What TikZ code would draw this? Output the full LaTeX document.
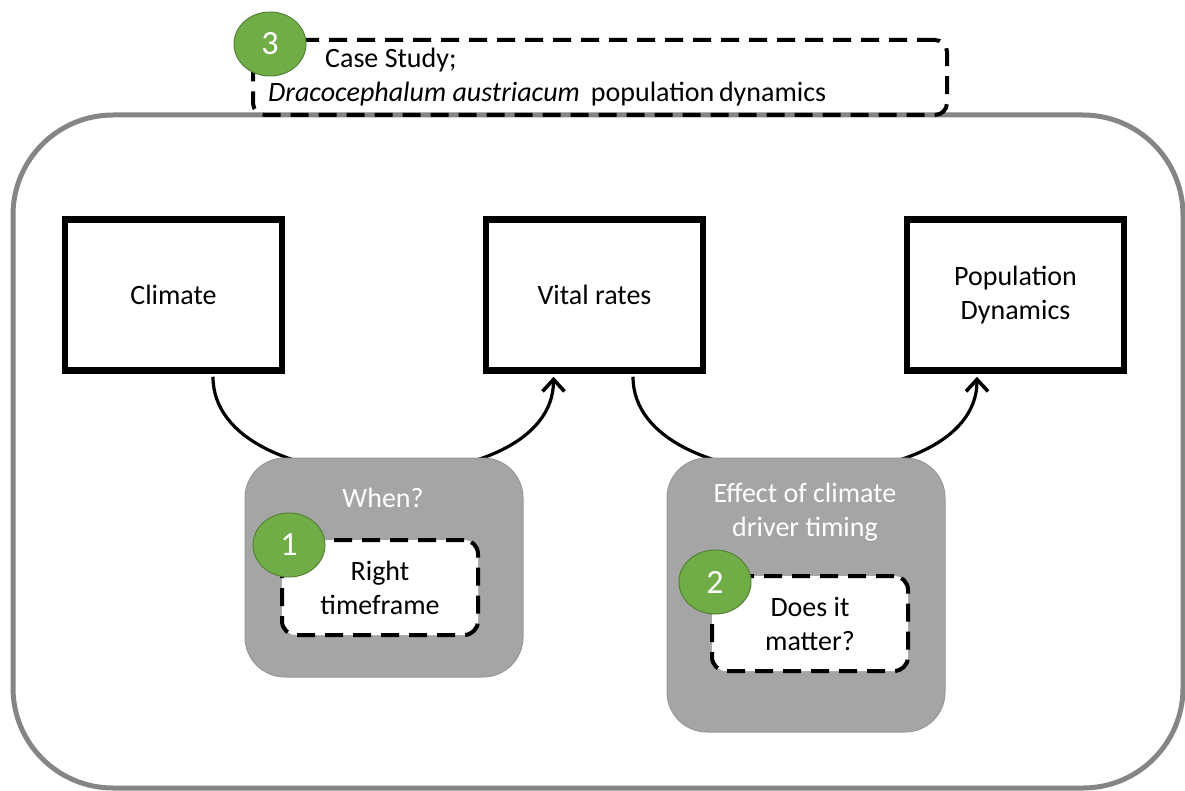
\documentclass[tikz,border=0pt]{standalone}
\usepackage{fontspec}
\setmainfont{Carlito}
\usetikzlibrary{arrows.meta}
\definecolor{outergray}{HTML}{858585}
\definecolor{boxgray}{HTML}{A5A5A5}
\definecolor{boxedge}{HTML}{979797}
\definecolor{numgreen}{HTML}{70AD47}
\definecolor{numedge}{HTML}{548235}
\tikzset{
  txt/.style={font=\fontsize{28}{34}\selectfont},
  mainbox/.style={draw=black, line width=6.5pt, fill=white, minimum width=217pt, minimum height=151pt, inner sep=0pt, txt, align=center},
  greybox/.style={draw=boxedge, line width=1pt, fill=boxgray, rounded corners=40pt, inner sep=0pt},
  dashbox/.style={draw=black, line width=4pt, dash pattern=on 18pt off 10pt, fill=white, rounded corners=14pt, minimum width=196pt, minimum height=95pt, inner sep=0pt, txt, align=center},
  numcirc/.style={ellipse, draw=numedge, line width=1pt, fill=numgreen, minimum width=72pt, minimum height=64pt, inner sep=0pt, text=white, font=\fontsize{34}{40}\selectfont},
  whitetxt/.style={txt, text=white, align=center},
  flow/.style={line width=3.2pt, -{Straight Barb[length=12pt,width=22pt,line width=3.6pt]}},
}
\usetikzlibrary{shapes.geometric}
\begin{document}
\begin{tikzpicture}[x=1pt,y=-1pt]
\useasboundingbox (0,0) rectangle (1185,791);
% outer frame
\draw[outergray, line width=5pt, rounded corners=100pt] (13,115) rectangle (1183,788);
% top dashed case-study box
\node[draw=black, line width=4pt, dash pattern=on 18pt off 10pt, rounded corners=12pt, minimum width=694pt, minimum height=75pt, inner sep=0pt] (case) at (600,77.5) {};
\node[txt, anchor=base west, inner sep=0pt] (casel1) at (325,68) {Case Study;};
\node[txt, anchor=base west, inner sep=0pt] (casel2) at (268,102) {\textit{Dracocephalum austriacum}\, population\,dynamics};
\node[numcirc] (n3) at (270,44) {3};
% main boxes
\node[mainbox] (clim) at (173.5,295) {Climate};
\node[mainbox] (vital) at (594.5,295) {Vital rates};
\node[mainbox] (pop) at (1015.5,295) {Population\\Dynamics};
% connectors
\draw[flow] ([xshift=39.5pt,yshift=-3pt]clim.south) .. controls +(0,128) and +(0,128) .. ([xshift=-41pt,yshift=-3pt]vital.south);
\draw[flow] ([xshift=38.5pt,yshift=-3pt]vital.south) .. controls +(0,128) and +(0,128) .. ([xshift=-38.5pt,yshift=-3pt]pop.south);
% grey boxes
\node[greybox, minimum width=278pt, minimum height=219pt] (g1) at (384,567.5) {};
\node[greybox, minimum width=278pt, minimum height=274pt] (g2) at (806,595) {};
\node[whitetxt] (when) at (383,498) {When?};
\node[whitetxt] (effect) at (805,512) {Effect of climate\\driver timing};
\node[dashbox] (right) at (380,587.5) {Right\\timeframe};
\node[dashbox] (does) at (810,623.5) {Does it\\matter?};
\node[numcirc] (n1) at (289,545) {1};
\node[numcirc] (n2) at (715,582) {2};
\end{tikzpicture}
\end{document}
